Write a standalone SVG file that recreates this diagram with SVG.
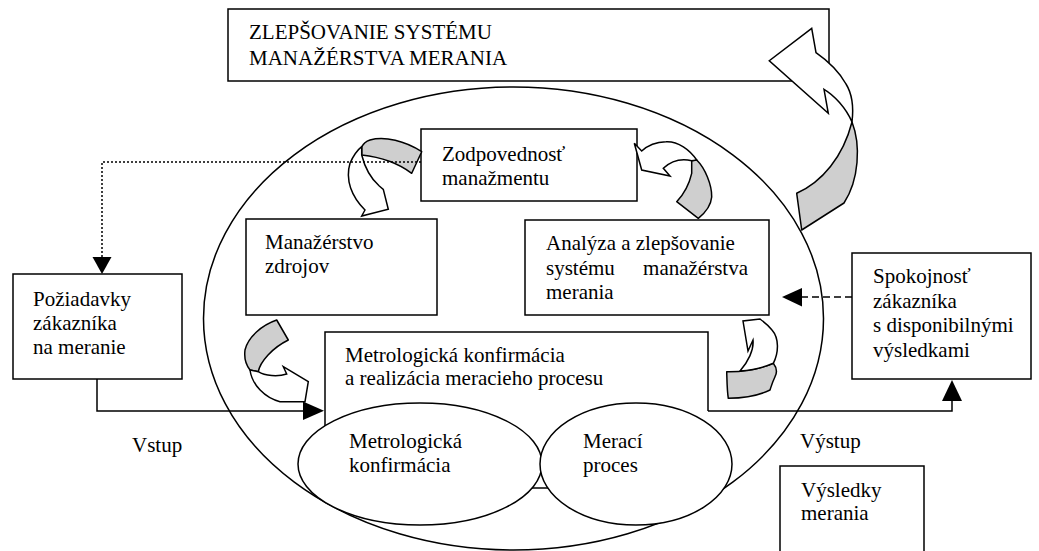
<svg xmlns="http://www.w3.org/2000/svg" width="1039" height="551" viewBox="0 0 1039 551">
<style>
.b{fill:#fff;stroke:#000;stroke-width:1.5}
.ln{fill:none;stroke:#000;stroke-width:1.5}
.g{fill:#cfcfcf;stroke:#000;stroke-width:1.5;stroke-linejoin:round}
.w{fill:#fff;stroke:#000;stroke-width:1.5;stroke-linejoin:miter}
text{font-family:"Liberation Serif","Times New Roman",serif;font-size:21px;fill:#000}
</style>
<rect width="1039" height="551" fill="#fff"/>
<g id="outer-ellipse"><ellipse class="b" cx="513.5" cy="318.5" rx="310" ry="231.5"/></g>
<g id="top-box">
<rect class="b" x="228" y="9" width="601" height="72"/>
<text x="249" y="39">ZLEPŠOVANIE SYSTÉMU</text>
<text x="249" y="65">MANAŽÉRSTVA MERANIA</text>
</g>
<g id="big-arrow">
<path class="g" d="M852,122 C861,145 859,180 844,203 L801.7,230 L796.7,193.3 C822,182 843,157 852,122 Z"/>
<path class="w" d="M816,52.7 L811.7,28.3 L769.3,60.7 L828.3,113.3 L824,89.3 C834,95 846,108 852,122 C854,105 851,92 846,84 C838,70 828,61 816,52.7 Z"/>
</g>
<g id="zodpovednost">
<rect class="b" x="421" y="129" width="216" height="72"/>
<text x="442" y="161">Zodpovednosť</text>
<text x="442" y="185">manažmentu</text>
</g>
<g id="manazerstvo">
<rect class="b" x="246" y="219" width="191" height="96"/>
<text x="265" y="249">Manažérstvo</text>
<text x="265" y="273">zdrojov</text>
</g>
<g id="analyza">
<rect class="b" x="525" y="220" width="244" height="95"/>
<text x="546" y="250">Analýza a zlepšovanie</text>
<text x="546" y="275">systému</text>
<text x="748" y="275" text-anchor="end">manažérstva</text>
<text x="546" y="299">merania</text>
</g>
<g id="poziadavky">
<rect class="b" x="13" y="274" width="169" height="105"/>
<text x="33" y="306">Požiadavky</text>
<text x="33" y="330">zákazníka</text>
<text x="33" y="354">na meranie</text>
</g>
<g id="spokojnost">
<rect class="b" x="852" y="253" width="179" height="126"/>
<text x="873" y="283">Spokojnosť</text>
<text x="873" y="307.5">zákazníka</text>
<text x="873" y="332">s disponibilnými</text>
<text x="873" y="356.5">výsledkami</text>
</g>
<g id="vysledky">
<path class="b" d="M780,560 V466 H924 V560"/>
<text x="801" y="497">Výsledky</text>
<text x="801" y="520">merania</text>
</g>
<g id="metrologicka-box">
<path class="b" d="M708,411 V332 H325 V488 H708"/>
<text x="345" y="362">Metrologická konfirmácia</text>
<text x="345" y="385">a realizácia meracieho procesu</text>
</g>
<g id="metrologicka-konfirmacia">
<ellipse class="b" cx="420" cy="464" rx="122" ry="61"/>
<text x="349" y="448">Metrologická</text>
<text x="349" y="472">konfirmácia</text>
</g>
<g id="meraci-proces">
<ellipse class="b" cx="636" cy="464" rx="96" ry="61"/>
<text x="583" y="448">Merací</text>
<text x="583" y="472">proces</text>
</g>
<g id="curved-arrows">
<path class="g" d="M421.7,151.7 C405,141 385,136 370,140 Q364,142 361.7,147 L361.7,155 C380,157 398,163 411.7,173.3 Z"/>
<path class="w" d="M361.7,155 Q366.7,175 379.3,186 L383.3,189.3 L388.3,209.3 L361.7,216 L365,210 C351.7,196.7 345,180 350,163.3 Q355,152 361.7,146.7 Z"/>
<path class="g" d="M691.7,160.7 L696.7,160 C705,168 712,185 711.7,197 C711,205 705,213 698.3,218.3 L676.7,201.7 C683,195 689,185 691.7,173.3 Z"/>
<path class="w" d="M696.7,160 C690,150 678,141 666,141.7 C655,142 647,146 641.7,151 L634.3,143.3 L641.7,170 L670,176 L663.3,168.3 C670,162 680,158 691.7,160.7 Z"/>
<path class="g" d="M276.7,320 C262,325 248,337 245,350 C244,358 246,365 250,370 L258.3,371.7 C260,362 272,348 288.3,340 Z"/>
<path class="w" d="M250,370 C252,385 265,398 280,401.7 L305,401.7 L308.3,381.7 L283.3,366.7 L286.7,374 C278,377 265,376 258.3,371.7 Z"/>
<path class="g" d="M726.7,371.7 C742,372 760,369 773.3,363.3 C777,368 777,373 775,376.7 C772,383 771,387 770,390 C760,395 745,398 728.3,398.3 C727,390 727,380 726.7,371.7 Z"/>
<path class="w" d="M740,371 C752,370 765,367 773.3,363.3 C779,352 779,338 772,330 C768,325 764,322 760,319 L743,321 L748,351 L753,340 C754,350 748,362 740,371 Z"/>
</g>
<g id="connectors">
<path class="ln" d="M421,162 H102 V258" stroke-dasharray="2 2"/>
<polygon points="92.5,257 111.5,257 102,274"/>
<path class="ln" d="M97,379 V411 H304"/>
<polygon points="303,401.5 303,420 324,410.7"/>
<path class="ln" d="M708,411 H952 V399"/>
<polygon points="942,401 962,401 952,380"/>
<path class="ln" d="M852,297 H801" stroke-dasharray="7 4"/>
<polygon points="802,288 802,306.5 782,297"/>
</g>
<g id="labels">
<text x="132" y="452">Vstup</text>
<text x="800" y="448">Výstup</text>
</g>
</svg>
